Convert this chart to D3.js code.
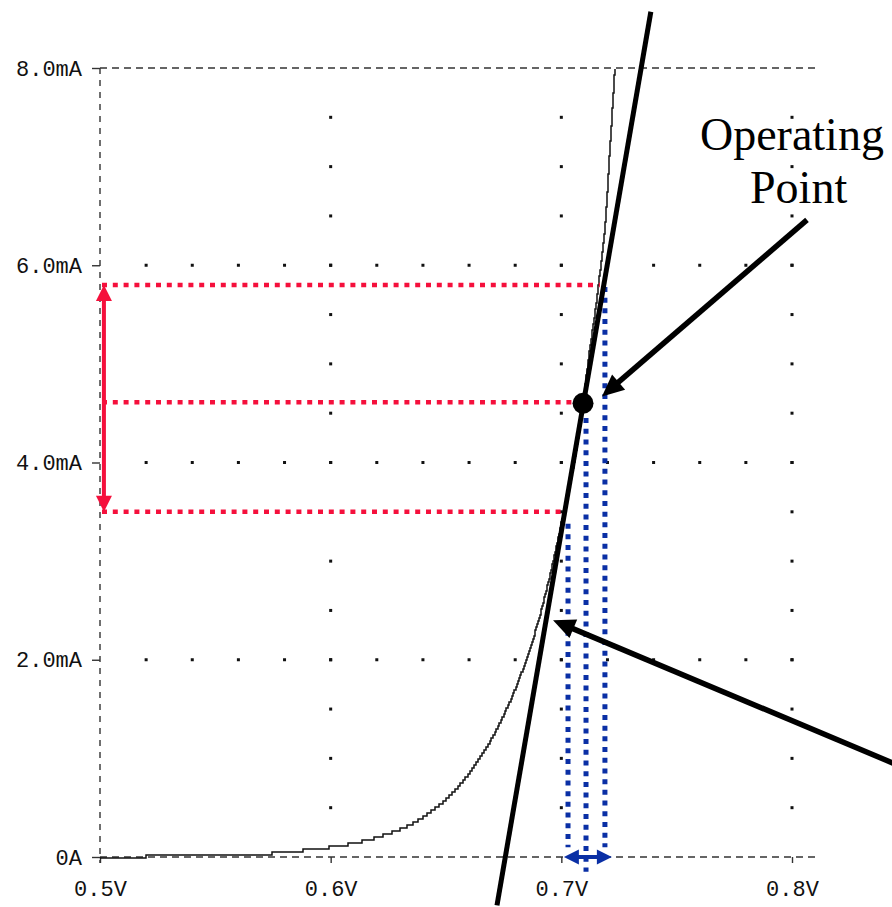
<!DOCTYPE html>
<html>
<head>
<meta charset="utf-8">
<script src="https://cdn.jsdelivr.net/npm/d3@7"></script>
<style>
  html, body { margin: 0; padding: 0; background: #fff; }
  svg { display: block; }
</style>
</head>
<body>
<svg id="chart" width="892" height="907"></svg>
<script>
// ---------- data ----------
const xTickValues = [0.5, 0.6, 0.7, 0.8];
const xTickLabels = ["0.5V", "0.6V", "0.7V", "0.8V"];
const yTickValues = [0, 2, 4, 6, 8];
const yTickLabels = ["0A", "2.0mA", "4.0mA", "6.0mA", "8.0mA"];

// diode I-V trace (V in volts, I in mA)
const curveV = [0.500, 0.537, 0.565, 0.581, 0.600, 0.608, 0.623, 0.637, 0.644, 0.652, 0.659, 0.666, 0.673, 0.682, 0.691, 0.697, 0.700, 0.7094, 0.711, 0.716, 0.7198, 0.7210, 0.7224, 0.7232];
const curveI = [0.00, 0.01, 0.02, 0.05, 0.10, 0.13, 0.22, 0.36, 0.47, 0.63, 0.82, 1.05, 1.34, 1.82, 2.47, 3.05, 3.38, 4.58, 4.90, 5.78, 6.66, 7.15, 7.67, 8.00];

// tangent line through the operating point
const tangentV = [0.6721, 0.7388];
const tangentI = [-0.49, 8.57];

// operating point
const opV = 0.7094, opI = 4.60;

// grid dots
const gridRowI = [2, 4, 6];
const gridRowV = [0.52, 0.54, 0.56, 0.58, 0.60, 0.62, 0.64, 0.66, 0.68, 0.70, 0.72, 0.74, 0.76, 0.78, 0.80];
const gridColV = [0.6, 0.7, 0.8];
const gridColI = [0.5, 1.0, 1.5, 2.0, 2.5, 3.0, 3.5, 4.0, 4.5, 5.0, 5.5, 6.0, 6.5, 7.0, 7.5];

// red dotted current levels: level, end voltage
const redLevelI = [5.80, 4.61, 3.50];
const redLevelEndV = [0.7167, 0.7061, 0.7006];
// red double arrow (voltage, from I, to I)
const redArrowV = 0.5017, redArrowI = [5.80, 3.50];

// blue dotted voltage levels: voltage, top current, bottom current
const blueLevelV = [0.7029, 0.7107, 0.7189];
const blueLevelTopI = [3.38, 4.45, 5.78];
const blueLevelBottomI = [0.10, -0.15, 0.10];
// blue double arrow
const blueArrowV = [0.7011, 0.7219], blueArrowI = 0.0;

// annotation arrows: [tailV, tailI, tipV, tipI]
const annotArrows = [
  [0.8065, 6.46, 0.7176, 4.67],
  [0.8440, 0.95, 0.6964, 2.40]
];
const annotText = ["Operating", "Point"];
const annotTextV = [0.7601, 0.7818];
const annotTextI = [7.17, 6.63];

// ---------- scales ----------
const svg = d3.select("#chart");
const x = d3.scaleLinear().domain([0.5, 0.8]).range([100, 792]);
const y = d3.scaleLinear().domain([0, 8]).range([857, 68]);
const xEnd = 0.812;

const axisColor = "#333";
const labelFont = "'Liberation Mono', 'DejaVu Sans Mono', monospace";

// ---------- frame ----------
const frame = svg.append("g");
[8, 0].forEach(v => {
  frame.append("line")
    .attr("x1", x(0.5)).attr("x2", x(xEnd))
    .attr("y1", y(v)).attr("y2", y(v))
    .attr("stroke", axisColor).attr("stroke-width", 1.4)
    .attr("stroke-dasharray", "7,5");
});
frame.append("line")
  .attr("x1", x(0.5)).attr("x2", x(0.5))
  .attr("y1", y(8)).attr("y2", y(0) + 6)
  .attr("stroke", axisColor).attr("stroke-width", 1.4)
  .attr("stroke-dasharray", "6,6");

const yAxis = d3.axisLeft(y).tickValues(yTickValues)
  .tickSize(8).tickPadding(12)
  .tickFormat((d, i) => yTickLabels[i]);
const gy = svg.append("g").attr("transform", `translate(${x(0.5)},0)`).call(yAxis);
gy.select(".domain").remove();
gy.selectAll(".tick line").attr("stroke", axisColor).attr("stroke-width", 1.4);
gy.selectAll(".tick text")
  .attr("fill", "#111")
  .style("font-family", labelFont).style("font-size", "22px")
  .attr("x", -18);

const xAxis = d3.axisBottom(x).tickValues(xTickValues)
  .tickSize(6).tickPadding(17)
  .tickFormat((d, i) => xTickLabels[i]);
const gx = svg.append("g").attr("transform", `translate(0,${y(0)})`).call(xAxis);
gx.select(".domain").remove();
gx.selectAll(".tick line").attr("stroke", axisColor).attr("stroke-width", 1.4);
gx.selectAll(".tick text")
  .attr("fill", "#111")
  .style("font-family", labelFont).style("font-size", "22px");

// ---------- grid dots ----------
const dots = [];
gridRowI.forEach(i => gridRowV.forEach(v => dots.push([v, i])));
gridColV.forEach(v => gridColI.forEach(i => dots.push([v, i])));
svg.append("g").selectAll("rect").data(dots).join("rect")
  .attr("x", d => x(d[0]) - 1.5).attr("y", d => y(d[1]) - 1.5)
  .attr("width", 3).attr("height", 3).attr("fill", "#111");

// ---------- curve (drawn as a pixel staircase like the scope trace) ----------
const curveData = curveV.map((v, i) => [v, curveI[i]]);
const smooth = svg.append("path")
  .datum(curveData)
  .attr("fill", "none").attr("stroke", "none")
  .attr("d", d3.line().x(d => x(d[0])).y(d => y(d[1])).curve(d3.curveMonotoneX));
const node = smooth.node();
const total = node.getTotalLength();
const stepPts = [];
for (let s = 0; s <= total; s += 0.5) {
  const p = node.getPointAtLength(s);
  const q = [Math.round(p.x), Math.round(p.y / 3) * 3];
  const last = stepPts[stepPts.length - 1];
  if (!last || last[0] !== q[0] || last[1] !== q[1]) stepPts.push(q);
}
smooth.remove();
svg.append("path")
  .datum(stepPts)
  .attr("fill", "none").attr("stroke", "#111").attr("stroke-width", 1.5)
  .attr("d", d3.line().curve(d3.curveStepAfter));

// ---------- arrow helper ----------
function arrow(g, x1, y1, x2, y2, color, w, hl, hw, both) {
  const dx = x2 - x1, dy = y2 - y1, L = Math.hypot(dx, dy);
  const ux = dx / L, uy = dy / L, px = -uy, py = ux;
  const sx = both ? x1 + ux * hl * 0.8 : x1, sy = both ? y1 + uy * hl * 0.8 : y1;
  const ex = x2 - ux * hl * 0.8, ey = y2 - uy * hl * 0.8;
  g.append("line").attr("x1", sx).attr("y1", sy).attr("x2", ex).attr("y2", ey)
    .attr("stroke", color).attr("stroke-width", w);
  const head = (tx, ty, ax, ay) => {
    const bx = tx - ax * hl, by = ty - ay * hl;
    g.append("polygon")
      .attr("points", [[tx, ty], [bx + px * hw, by + py * hw], [bx - px * hw, by - py * hw]].map(p => p.join(",")).join(" "))
      .attr("fill", color);
  };
  head(x2, y2, ux, uy);
  if (both) head(x1, y1, -ux, -uy);
}

// ---------- red levels ----------
const red = "#f5103c";
const gRed = svg.append("g");
redLevelI.forEach((lv, i) => {
  gRed.append("line")
    .attr("x1", x(0.5) + 2).attr("x2", x(redLevelEndV[i]))
    .attr("y1", y(lv)).attr("y2", y(lv))
    .attr("stroke", red).attr("stroke-width", 4.5)
    .attr("stroke-dasharray", "5,5.8");
});
arrow(gRed, x(redArrowV), y(redArrowI[0]), x(redArrowV), y(redArrowI[1]), red, 4, 16, 8, true);

// ---------- blue levels ----------
const blue = "#0a2fa5";
const gBlue = svg.append("g");
blueLevelV.forEach((v, i) => {
  gBlue.append("line")
    .attr("x1", x(v)).attr("x2", x(v))
    .attr("y1", y(blueLevelTopI[i])).attr("y2", y(blueLevelBottomI[i]))
    .attr("stroke", blue).attr("stroke-width", 5)
    .attr("stroke-dasharray", "5,5.7");
});
arrow(gBlue, x(blueArrowV[0]), y(blueArrowI), x(blueArrowV[1]), y(blueArrowI), blue, 4, 15, 7.5, true);

// ---------- tangent ----------
svg.append("line")
  .attr("x1", x(tangentV[0])).attr("y1", y(tangentI[0]))
  .attr("x2", x(tangentV[1])).attr("y2", y(tangentI[1]))
  .attr("stroke", "#000").attr("stroke-width", 5);

svg.append("circle")
  .attr("cx", x(opV)).attr("cy", y(opI)).attr("r", 10.5)
  .attr("fill", "#000");

// ---------- annotations ----------
const gAnn = svg.append("g");
annotArrows.forEach(a => {
  arrow(gAnn, x(a[0]), y(a[1]), x(a[2]), y(a[3]), "#000", 5.5, 22, 10, false);
});
annotText.forEach((t, i) => {
  gAnn.append("text")
    .attr("x", x(annotTextV[i])).attr("y", y(annotTextI[i]))
    .attr("fill", "#000")
    .style("font-family", "'Liberation Serif', 'Times New Roman', serif")
    .style("font-size", "46px")
    .text(t);
});
</script>
</body>
</html>
